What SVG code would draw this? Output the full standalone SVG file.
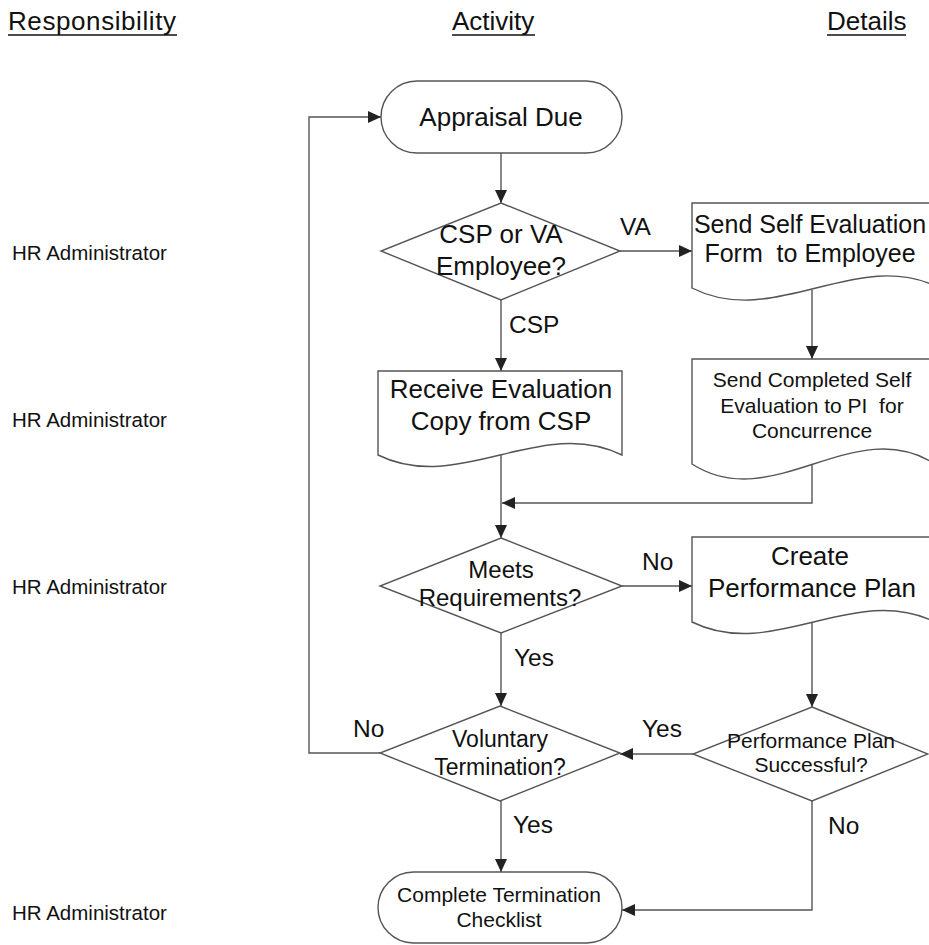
<svg xmlns="http://www.w3.org/2000/svg" width="929" height="945" viewBox="0 0 929 945">
<style>
.bg{fill:#fff}
.shape{fill:#fff;stroke:#555;stroke-width:1.4}
.conn{fill:none;stroke:#555;stroke-width:1.4}
text{font-family:"Liberation Sans",Arial,sans-serif;fill:#111}
.hdr{font-size:26px}
.resp{font-size:20.5px}
.lbl{font-size:24.5px}
.c{text-anchor:middle}
.ul{stroke:#111;stroke-width:1.6}
</style>
<defs>
<marker id="arr" markerUnits="userSpaceOnUse" markerWidth="14" markerHeight="13" refX="13" refY="6.5" orient="auto">
<path d="M0,0.5 L13,6.5 L0,12.5 Z" fill="#222"/>
</marker>
</defs>
<rect class="bg" x="0" y="0" width="929" height="945"/>

<g id="headers">
<text class="hdr" x="8" y="30" textLength="168">Responsibility</text>
<line class="ul" x1="8" y1="35" x2="177" y2="35"/>
<text class="hdr" x="452" y="30">Activity</text>
<line class="ul" x1="452" y1="35" x2="535" y2="35"/>
<text class="hdr" x="827" y="30">Details</text>
<line class="ul" x1="827" y1="35" x2="906" y2="35"/>
</g>

<g id="responsibility">
<text class="resp" x="12" y="260">HR Administrator</text>
<text class="resp" x="12" y="427">HR Administrator</text>
<text class="resp" x="12" y="594">HR Administrator</text>
<text class="resp" x="12" y="920">HR Administrator</text>
</g>

<g id="connectors">
<line class="conn" x1="501" y1="153" x2="501" y2="203" marker-end="url(#arr)"/>
<line class="conn" x1="620" y1="251" x2="692" y2="251" marker-end="url(#arr)"/>
<line class="conn" x1="501" y1="300" x2="501" y2="371" marker-end="url(#arr)"/>
<line class="conn" x1="812" y1="290" x2="812" y2="359" marker-end="url(#arr)"/>
<line class="conn" x1="501" y1="455" x2="501" y2="538" marker-end="url(#arr)"/>
<polyline class="conn" points="812,465 812,503 502,503" marker-end="url(#arr)"/>
<line class="conn" x1="622" y1="586" x2="692" y2="586" marker-end="url(#arr)"/>
<line class="conn" x1="812" y1="622" x2="812" y2="707" marker-end="url(#arr)"/>
<line class="conn" x1="693" y1="754" x2="620" y2="754" marker-end="url(#arr)"/>
<line class="conn" x1="501" y1="633" x2="501" y2="706" marker-end="url(#arr)"/>
<polyline class="conn" points="380,753 309,753 309,117 381,117" marker-end="url(#arr)"/>
<line class="conn" x1="501" y1="801" x2="501" y2="872" marker-end="url(#arr)"/>
<polyline class="conn" points="812,801 812,910 622,910" marker-end="url(#arr)"/>
</g>

<g id="edge-labels">
<text class="lbl" x="620" y="235">VA</text>
<text class="lbl" x="509" y="333">CSP</text>
<text class="lbl" x="642" y="570">No</text>
<text class="lbl" x="514" y="666">Yes</text>
<text class="lbl" x="353" y="737">No</text>
<text class="lbl" x="642" y="737">Yes</text>
<text class="lbl" x="513" y="833">Yes</text>
<text class="lbl" x="828" y="834">No</text>
</g>

<g id="appraisal-due">
<rect class="shape" x="381" y="81" width="241" height="72" rx="36" ry="36"/>
<text class="c" x="501" y="126" font-size="26">Appraisal Due</text>
</g>

<g id="csp-or-va">
<polygon class="shape" points="501,203 620,251 501,300 381,251"/>
<text class="c" x="501" y="243" font-size="26">CSP or VA</text>
<text class="c" x="501" y="275" font-size="26">Employee?</text>
</g>

<g id="send-self-eval">
<path class="shape" d="M692,203 H940 V288 C857,246 775,330 692,288 Z"/>
<text class="c" x="810" y="233" font-size="25">Send Self Evaluation</text>
<text class="c" x="810" y="262" font-size="25" xml:space="preserve">Form  to Employee</text>
</g>

<g id="send-completed">
<path class="shape" d="M692,359 H935 V464 C854,412 773,516 692,464 Z"/>
<text class="c" x="812" y="387" font-size="21">Send Completed Self</text>
<text class="c" x="812" y="413" font-size="21" xml:space="preserve">Evaluation to PI  for</text>
<text class="c" x="812" y="438" font-size="21">Concurrence</text>
</g>

<g id="receive-eval">
<path class="shape" d="M378,371 H622 V455 C541,415 459,495 378,455 Z"/>
<text class="c" x="501" y="398" font-size="26">Receive Evaluation</text>
<text class="c" x="501" y="430" font-size="26">Copy from CSP</text>
</g>

<g id="meets-req">
<polygon class="shape" points="501,538 622,586 501,633 380,586"/>
<text class="c" x="501" y="578" font-size="24">Meets</text>
<text class="c" x="500" y="606" font-size="24">Requirements?</text>
</g>

<g id="create-plan">
<path class="shape" d="M692,537 H935 V622 C854,582 773,662 692,622 Z"/>
<text class="c" x="810" y="565" font-size="26">Create</text>
<text class="c" x="812" y="597" font-size="26">Performance Plan</text>
</g>

<g id="plan-successful">
<polygon class="shape" points="812,707 928,754 812,801 693,754"/>
<text class="c" x="811" y="748" font-size="21">Performance Plan</text>
<text class="c" x="811" y="772" font-size="21">Successful?</text>
</g>

<g id="voluntary-term">
<polygon class="shape" points="500,706 620,753 500,801 380,753"/>
<text class="c" x="500" y="747" font-size="23">Voluntary</text>
<text class="c" x="500" y="775" font-size="23">Termination?</text>
</g>

<g id="termination-checklist">
<rect class="shape" x="378" y="872" width="244" height="71" rx="35.5" ry="35.5"/>
<text class="c" x="499" y="902" font-size="21">Complete Termination</text>
<text class="c" x="499" y="927" font-size="21">Checklist</text>
</g>
</svg>
